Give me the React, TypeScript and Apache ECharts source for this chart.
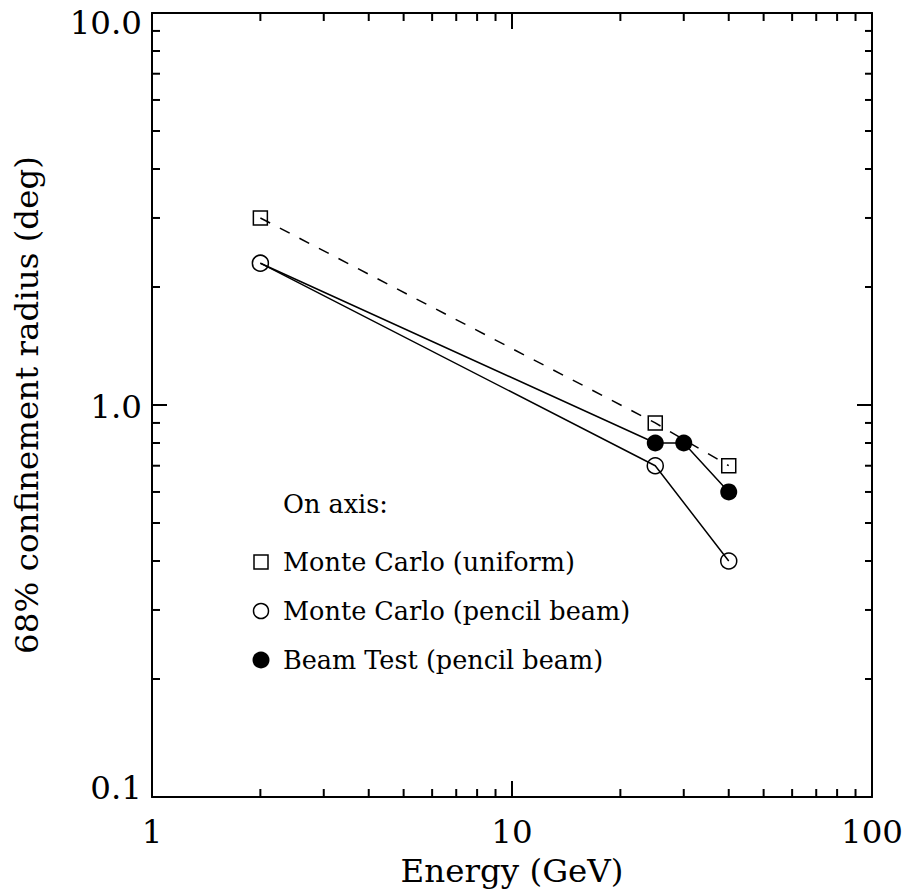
import React, { useEffect, useRef } from "react";
import * as echarts from "echarts";

// Energy (GeV) and 68% confinement radius (deg) for each data set
const energyUniform = [2, 25, 40];
const radiusUniform = [3.0, 0.9, 0.7];

const energyPencil = [2, 25, 40];
const radiusPencil = [2.3, 0.7, 0.4];

const energyBeam = [2, 25, 30, 40];
const radiusBeam = [2.3, 0.8, 0.8, 0.6];

// Axis ranges and minor tick values (log decades)
const X_MIN = 1;
const X_MAX = 100;
const Y_MIN = 0.1;
const Y_MAX = 10;
const xMinorTicks = [2, 3, 4, 5, 6, 7, 8, 9, 20, 30, 40, 50, 60, 70, 80, 90];
const yMinorTicks = [0.2, 0.3, 0.4, 0.5, 0.6, 0.7, 0.8, 0.9, 2, 3, 4, 5, 6, 7, 8, 9];

const xTitle = "Energy (GeV)";
const yTitle = "68% confinement radius (deg)";
const legendTitle = "On axis:";
const seriesNames = [
  "Monte Carlo (uniform)",
  "Monte Carlo (pencil beam)",
  "Beam Test (pencil beam)",
];

const FONT = "DejaVu Serif";
const AXIS_FS = 32.5;
const KEY_FS = 25.5;
const INK = "#000";

const pairs = (xs: number[], ys: number[]) => xs.map((x, i) => [x, ys[i]]);

export default function App() {
  const ref = useRef<HTMLDivElement>(null);

  useEffect(() => {
    if (!ref.current) return;
    const chart = echarts.init(ref.current, undefined, { renderer: "svg" });

    const axisCommon = {
      type: "log" as const,
      logBase: 10,
      axisLine: { show: true, lineStyle: { color: INK, width: 2 } },
      splitLine: { show: false },
      minorTick: { show: false },
    };

    const beamData = pairs(energyBeam, radiusBeam).map((p, i) =>
      i === 0 ? { value: p, symbol: "none" } : { value: p }
    );

    const legendText = (y: number, text: string) => ({
      type: "text",
      style: {
        x: 283,
        y,
        text,
        fontSize: KEY_FS,
        fontFamily: FONT,
        fill: INK,
        align: "left",
        verticalAlign: "middle",
      },
    });

    const option: any = {
      animation: false,
      backgroundColor: "#fff",
      grid: { left: 152, right: 40, top: 13, bottom: 95, containLabel: false },
      xAxis: [
        {
          ...axisCommon,
          position: "bottom",
          min: X_MIN,
          max: X_MAX,
          axisTick: { show: true, inside: true, length: 16, lineStyle: { color: INK, width: 2 } },
          axisLabel: {
            show: true,
            margin: 18,
            color: INK,
            fontSize: AXIS_FS,
            fontFamily: FONT,
            formatter: (v: number) => String(Math.round(v)),
          },
          name: xTitle,
          nameLocation: "middle",
          nameGap: 57,
          nameTextStyle: { color: INK, fontSize: AXIS_FS, fontFamily: FONT },
        },
        {
          ...axisCommon,
          position: "top",
          min: X_MIN,
          max: X_MAX,
          axisTick: { show: true, inside: true, length: 16, lineStyle: { color: INK, width: 2 } },
          axisLabel: { show: false },
        },
      ],
      yAxis: [
        {
          ...axisCommon,
          position: "left",
          min: Y_MIN,
          max: Y_MAX,
          axisTick: { show: true, inside: true, length: 15, lineStyle: { color: INK, width: 2 } },
          axisLabel: {
            show: true,
            margin: 10,
            color: INK,
            fontSize: AXIS_FS,
            fontFamily: FONT,
            formatter: (v: number) => {
              const s = v.toFixed(1);
              if (v > 5) return `{hi|${s}}`;
              if (v < 0.5) return `{lo|${s}}`;
              return `{mid|${s}}`;
            },
            rich: {
              hi: { fontSize: AXIS_FS, fontFamily: FONT, color: INK, padding: [19, 0, 0, 0] },
              mid: { fontSize: AXIS_FS, fontFamily: FONT, color: INK, padding: [3, 0, 0, 0] },
              lo: { fontSize: AXIS_FS, fontFamily: FONT, color: INK, padding: [0, 0, 18, 0] },
            },
          },
          name: yTitle,
          nameLocation: "middle",
          nameGap: 109,
          nameRotate: 90,
          nameTextStyle: { color: INK, fontSize: AXIS_FS, fontFamily: FONT },
        },
        {
          ...axisCommon,
          position: "right",
          min: Y_MIN,
          max: Y_MAX,
          axisTick: { show: true, inside: true, length: 15, lineStyle: { color: INK, width: 2 } },
          axisLabel: { show: false },
        },
      ],
      series: [
        // minor ticks along the bottom and top edges
        {
          type: "custom",
          silent: true,
          xAxisIndex: 0,
          yAxisIndex: 0,
          clip: false,
          data: xMinorTicks.map((v) => [v, 1]),
          encode: { x: 0, y: 1 },
          renderItem: (_p: any, api: any) => {
            const v = api.value(0);
            const b = api.coord([v, Y_MIN]);
            const t = api.coord([v, Y_MAX]);
            const st = { stroke: INK, lineWidth: 2 };
            return {
              type: "group",
              children: [
                { type: "line", shape: { x1: b[0], y1: b[1], x2: b[0], y2: b[1] - 8 }, style: st },
                { type: "line", shape: { x1: t[0], y1: t[1], x2: t[0], y2: t[1] + 8 }, style: st },
              ],
            };
          },
        },
        // minor ticks along the left and right edges
        {
          type: "custom",
          silent: true,
          xAxisIndex: 0,
          yAxisIndex: 0,
          clip: false,
          data: yMinorTicks.map((v) => [2, v]),
          encode: { x: 0, y: 1 },
          renderItem: (_p: any, api: any) => {
            const v = api.value(1);
            const l = api.coord([X_MIN, v]);
            const r = api.coord([X_MAX, v]);
            const st = { stroke: INK, lineWidth: 2 };
            return {
              type: "group",
              children: [
                { type: "line", shape: { x1: l[0], y1: l[1], x2: l[0] + 8, y2: l[1] }, style: st },
                { type: "line", shape: { x1: r[0], y1: r[1], x2: r[0] - 7, y2: r[1] }, style: st },
              ],
            };
          },
        },
        {
          name: seriesNames[0],
          type: "line",
          data: pairs(energyUniform, radiusUniform),
          symbol: "rect",
          symbolSize: 14,
          itemStyle: { color: "rgba(0,0,0,0)", borderColor: INK, borderWidth: 1.5 },
          lineStyle: { color: INK, width: 1.5, type: [11, 11] },
          z: 3,
        },
        {
          name: seriesNames[1],
          type: "line",
          data: pairs(energyPencil, radiusPencil),
          symbol: "circle",
          symbolSize: 16,
          itemStyle: { color: "rgba(0,0,0,0)", borderColor: INK, borderWidth: 1.5 },
          lineStyle: { color: INK, width: 1.5 },
          z: 4,
        },
        {
          name: seriesNames[2],
          type: "line",
          data: beamData,
          symbol: "circle",
          symbolSize: 17,
          itemStyle: { color: INK, borderColor: INK, borderWidth: 0 },
          lineStyle: { color: INK, width: 1.5 },
          z: 5,
        },
      ],
      // on-axis key drawn inside the plot frame
      graphic: [
        legendText(504, legendTitle),
        {
          type: "rect",
          shape: { x: 254, y: 555, width: 14, height: 14 },
          style: { fill: "none", stroke: INK, lineWidth: 1.5 },
        },
        legendText(562, seriesNames[0]),
        {
          type: "circle",
          shape: { cx: 261, cy: 611, r: 7.5 },
          style: { fill: "none", stroke: INK, lineWidth: 1.5 },
        },
        legendText(611, seriesNames[1]),
        {
          type: "circle",
          shape: { cx: 261, cy: 660, r: 8.5 },
          style: { fill: INK, stroke: "none" },
        },
        legendText(660, seriesNames[2]),
      ],
    };

    chart.setOption(option);
    return () => chart.dispose();
  }, []);

  return (
    <div
      ref={ref}
      style={{ position: "absolute", left: 0, top: 0, width: 912, height: 892, background: "#fff" }}
    />
  );
}
